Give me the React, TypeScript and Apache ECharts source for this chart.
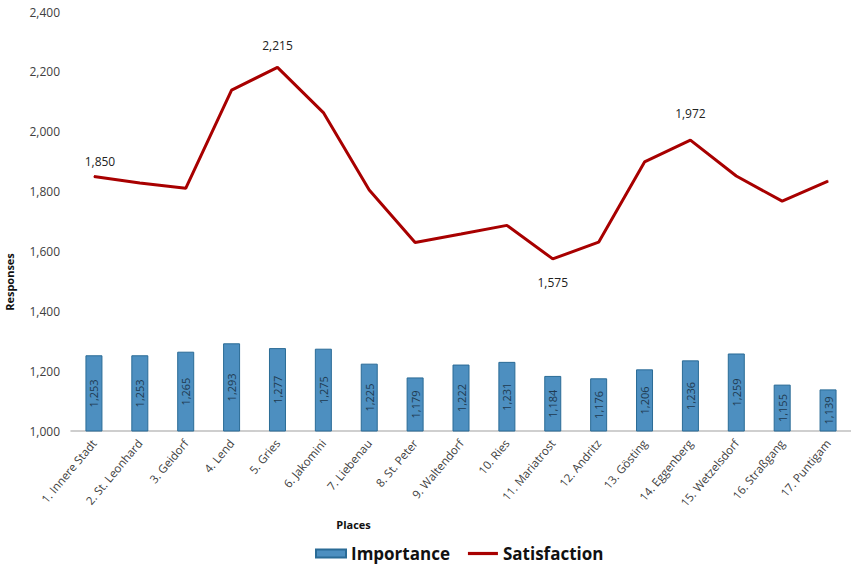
import React, { useEffect, useRef } from "react";
import * as echarts from "echarts";

const places = [
  "1. Innere Stadt", "2. St. Leonhard", "3. Geidorf", "4. Lend", "5. Gries",
  "6. Jakomini", "7. Liebenau", "8. St. Peter", "9. Waltendorf", "10. Ries",
  "11. Mariatrost", "12. Andritz", "13. Gösting", "14. Eggenberg",
  "15. Wetzelsdorf", "16. Straßgang", "17. Puntigam",
];
const importance = [1253, 1253, 1265, 1293, 1277, 1275, 1225, 1179, 1222, 1231, 1184, 1176, 1206, 1236, 1259, 1155, 1139];
const satisfaction = [1850, 1829, 1811, 2139, 2215, 2064, 1805, 1630, 1658, 1687, 1575, 1631, 1899, 1972, 1852, 1768, 1835];
// which satisfaction points carry a label, and where
const labelled: Record<number, "top" | "bottom"> = { 0: "top", 4: "top", 10: "bottom", 13: "top" };
const labelGap: Record<number, number> = { 0: 9, 4: 15, 10: 17, 13: 20 };
const labelShift: Record<number, number> = { 0: 6, 4: 0, 10: 0, 13: 0 };

const fmt = (v: number) => v.toLocaleString("en-US");

export default function App() {
  const ref = useRef<HTMLDivElement>(null);
  useEffect(() => {
    document.body.style.margin = "0";
    const chart = echarts.init(ref.current!, null, { renderer: "svg" });
    const font = "'Open Sans', 'Noto Sans', sans-serif";
    chart.setOption({
      animation: false,
      backgroundColor: "#ffffff",
      textStyle: { fontFamily: font },
      grid: { left: 71, top: 12, height: 419, width: 790 },
      legend: {
        bottom: 5,
        left: 310,
        itemGap: 18,
        itemWidth: 30,
        itemHeight: 8,
        textStyle: { fontSize: 17, fontWeight: "bold", color: "#111", fontFamily: font },
        data: [
          { name: "Importance", icon: "rect" },
          { name: "Satisfaction", icon: "path://M0,0 H30 V3.2 H0 Z", itemStyle: { color: "#a80000" } },
        ],
      },
      xAxis: {
        type: "category",
        data: places,
        name: "Places",
        nameLocation: "middle",
        nameGap: 88,
        nameTextStyle: { fontSize: 11, fontWeight: "bold", color: "#111", padding: [0, 215, 0, 0] },
        axisLine: { lineStyle: { color: "#bfbfbf", width: 1.5 } },
        axisTick: { show: false },
        axisLabel: { rotate: 50, fontSize: 11.5, color: "#404040", margin: 10, interval: 0 },
      },
      yAxis: {
        type: "value",
        min: 1000,
        max: 2400,
        interval: 200,
        splitLine: { show: false },
        axisLine: { show: false },
        axisTick: { show: false },
        axisLabel: { fontSize: 12, color: "#404040", margin: 11, formatter: (v: number) => fmt(v) },
      },
      graphic: [
        {
          type: "text",
          x: 4,
          y: 282,
          rotation: Math.PI / 2,
          style: { text: "Responses", fontSize: 11, fontWeight: "bold", fill: "#111", fontFamily: font, align: "center", verticalAlign: "top" },
        },
      ],
      series: [
        {
          name: "Importance",
          type: "bar",
          data: importance,
          barWidth: 17,
          itemStyle: { color: "#4d8fc0", borderColor: "#2a6b96", borderWidth: 1 },
          label: {
            show: true,
            position: "inside",
            rotate: 90,
            fontSize: 11,
            color: "#1e3a50",
            formatter: (p: any) => fmt(p.value),
          },
        },
        {
          name: "Satisfaction",
          type: "line",
          data: satisfaction.map((v, i) => ({
            value: v,
            label: labelled[i]
              ? {
                  show: true,
                  position: labelled[i],
                  distance: labelGap[i],
                  offset: [labelShift[i], 0],
                  fontSize: 12,
                  color: "#222",
                  formatter: (p: any) => fmt(p.value),
                }
              : { show: false },
          })),
          symbol: "circle",
          symbolSize: 1,
          showSymbol: true,
          lineStyle: { color: "#a80000", width: 3 },
          itemStyle: { color: "#a80000" },
        },
      ],
    });
    return () => chart.dispose();
  }, []);
  return <div ref={ref} style={{ width: 851, height: 572 }} />;
}
